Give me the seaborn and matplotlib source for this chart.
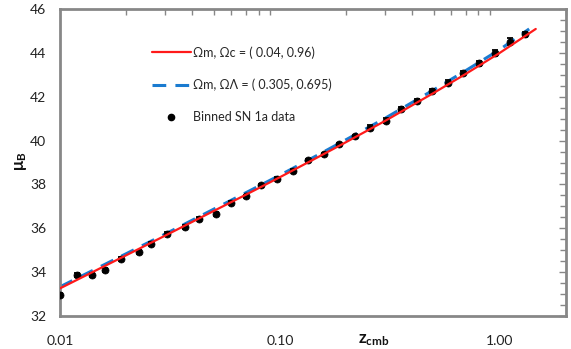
import numpy as np
import pandas as pd
import matplotlib
matplotlib.use("Agg")
import matplotlib.pyplot as plt
from matplotlib.ticker import LogLocator, FixedLocator, MultipleLocator, FuncFormatter, NullFormatter
from matplotlib.lines import Line2D
import seaborn as sns

# ---- data ----
z_bins = [0.0100, 0.0120, 0.0140, 0.0160, 0.0189, 0.0229, 0.0259, 0.0307,
          0.0369, 0.0430, 0.0510, 0.0597, 0.0701, 0.0817, 0.0966, 0.1142,
          0.1345, 0.1580, 0.1860, 0.2185, 0.2566, 0.3033, 0.3560, 0.4181,
          0.4924, 0.5786, 0.6812, 0.8028, 0.9461, 1.1100, 1.3030]
mu_bins = [32.96, 33.88, 33.86, 34.11, 34.60, 34.92, 35.27, 35.75,
           36.06, 36.44, 36.66, 37.17, 37.46, 37.96, 38.26, 38.63,
           39.10, 39.37, 39.83, 40.19, 40.59, 40.91, 41.44, 41.80,
           42.26, 42.64, 43.09, 43.52, 43.99, 44.51, 44.85]
mu_err = [0.10, 0.10, 0.10, 0.10, 0.10, 0.10, 0.10, 0.10,
          0.10, 0.08, 0.08, 0.08, 0.08, 0.08, 0.08, 0.08,
          0.08, 0.08, 0.08, 0.08, 0.10, 0.10, 0.10, 0.10,
          0.10, 0.10, 0.10, 0.10, 0.12, 0.15, 0.12]

z_red = [0.01, 0.02, 0.03, 0.05, 0.07, 0.10, 0.15, 0.20, 0.30, 0.50, 0.70, 1.00, 1.457]
mu_red = [33.26, 34.77, 35.66, 36.79, 37.53, 38.33, 39.26, 39.93, 40.89, 42.17, 43.04, 44.00, 45.09]

z_blue = [0.01, 0.02, 0.03, 0.05, 0.07, 0.10, 0.15, 0.20, 0.30, 0.50, 0.70, 1.00, 1.36]
mu_blue = [33.33, 34.84, 35.73, 36.87, 37.62, 38.42, 39.36, 40.04, 41.01, 42.31, 43.19, 44.15, 45.09]

label_red = "Ωm, Ωc = ( 0.04, 0.96)"
label_blue = "Ωm, ΩΛ = ( 0.305, 0.695)"
label_pts = "Binned SN 1a data"

# ---- style ----
sns.set_theme(style="white")
plt.rcParams["font.family"] = ["Lato", "DejaVu Sans"]
plt.rcParams["mathtext.fontset"] = "custom"
plt.rcParams["mathtext.rm"] = "Lato"
plt.rcParams["mathtext.bf"] = "Lato:bold"
plt.rcParams["mathtext.it"] = "Lato:italic"
plt.rcParams["mathtext.fallback"] = "stixsans"

fig = plt.figure(figsize=(5.71, 3.49), dpi=100)
ax = fig.add_axes([60/571, 1-316/349, (566-60)/571, (316-9)/349])

df_red = pd.DataFrame({"z": z_red, "mu": mu_red})
df_blue = pd.DataFrame({"z": z_blue, "mu": mu_blue})
df_pts = pd.DataFrame({"z": z_bins, "mu": mu_bins, "err": mu_err})

ax.errorbar(df_pts["z"], df_pts["mu"], yerr=df_pts["err"], fmt="none",
            ecolor="black", elinewidth=1.3, capsize=2.5, capthick=1.3, zorder=3)
sns.scatterplot(data=df_pts, x="z", y="mu", ax=ax, color="black", s=26,
                edgecolor="black", linewidth=0.5, zorder=4, legend=False)
sns.lineplot(data=df_blue, x="z", y="mu", ax=ax, color="#1a7bd0", lw=2.2,
             sort=False, estimator=None, zorder=2, legend=False)
ax.lines[-1].set_dashes([4.5, 3])
sns.lineplot(data=df_red, x="z", y="mu", ax=ax, color="#ff1a1a", lw=1.6,
             sort=False, estimator=None, zorder=5, legend=False)

ax.set_xscale("log")
ax.set_xlim(0.01, 2.0)
ax.set_ylim(32, 46)

ax.xaxis.set_major_locator(FixedLocator([0.01, 0.1, 1.0]))
ax.xaxis.set_major_formatter(FuncFormatter(lambda v, p: f"{v:.2f}"))
ax.xaxis.set_minor_locator(LogLocator(base=10, subs=np.arange(2, 10)))
ax.xaxis.set_minor_formatter(NullFormatter())
ax.yaxis.set_major_locator(MultipleLocator(2))
ax.yaxis.set_minor_locator(MultipleLocator(0.5))

gray = "#878787"
for s in ax.spines.values():
    s.set_color(gray)
    s.set_linewidth(2.0)

ax.tick_params(which="both", direction="in", color=gray, top=True, right=True,
               labelsize=10, labelcolor="#222222", width=1.0)
ax.tick_params(which="major", length=5)
ax.tick_params(which="minor", length=4)
ax.tick_params(axis="x", which="major", length=0, pad=14)
ax.tick_params(axis="y", which="major", pad=10)

ax.set_xlabel("")
ax.set_ylabel("")
fig.text(374/571, 1-340/349, r"$\mathbf{z_{cmb}}$", ha="center", va="center",
         fontsize=12, color="#111111")
fig.text(21/571, 1-161/349, r"$\mathbf{\mu_B}$",
         ha="center", va="center", rotation=90, fontsize=12, color="#111111")

handles = [Line2D([], [], color="#ff1a1a", lw=1.6),
           Line2D([], [], color="#1a7bd0", lw=2.2, dashes=[4.5, 3]),
           Line2D([], [], color="black", marker="o", ls="none", markersize=4.5)]
ax.legend(handles, [label_red, label_blue, label_pts], loc="upper left",
          bbox_to_anchor=((152-60)/506, (316-46)/307), frameon=False,
          fontsize=9, labelspacing=1.6, handlelength=3.1, handletextpad=0.2,
          borderaxespad=0, borderpad=0)

fig.savefig("out.png", dpi=100)
